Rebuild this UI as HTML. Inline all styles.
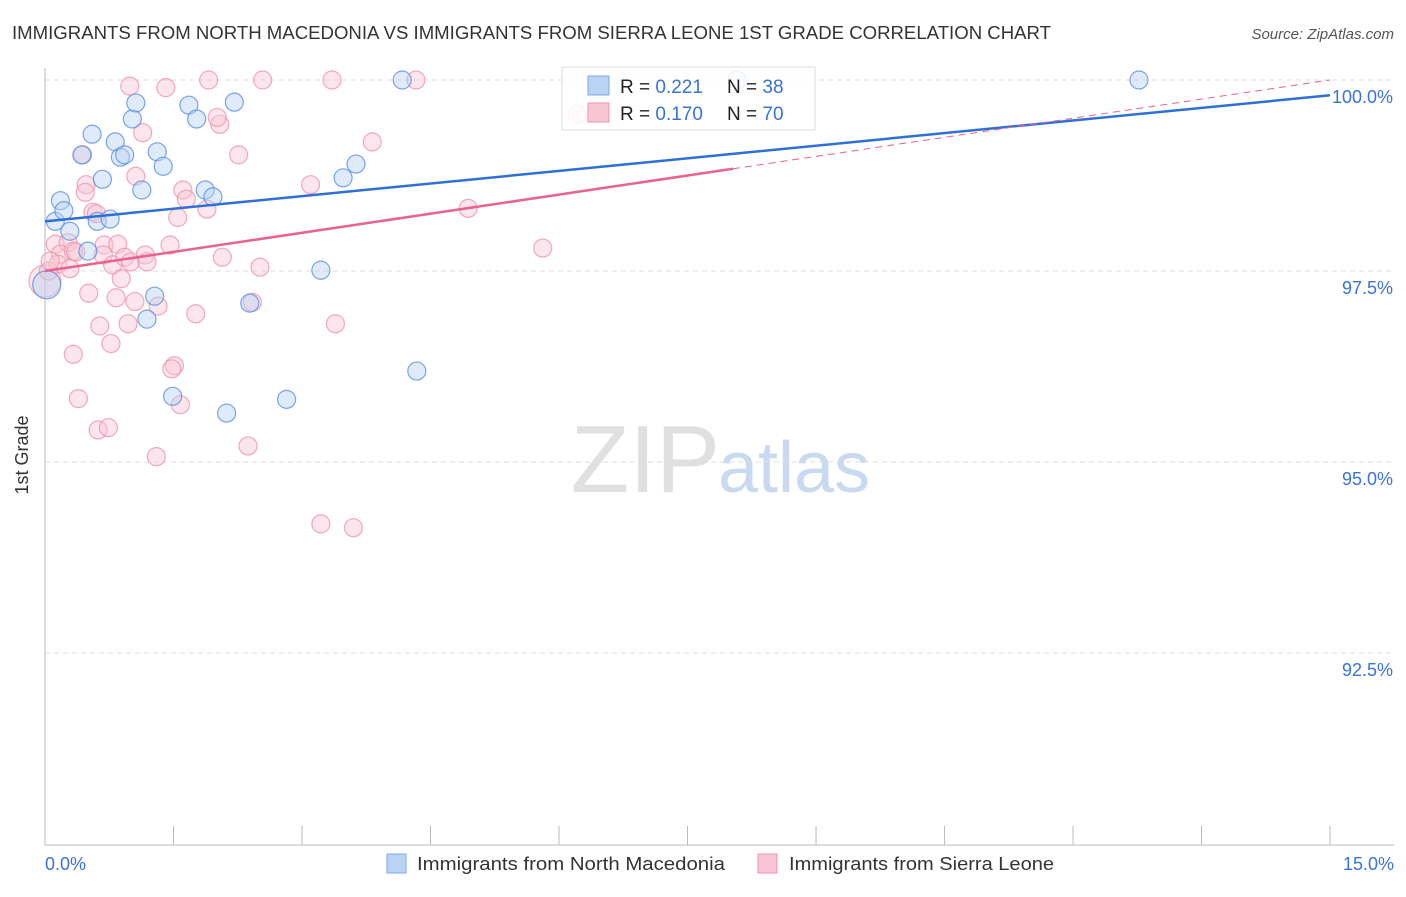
<!DOCTYPE html>
<html><head><meta charset="utf-8"><style>
body{margin:0;background:#fff;font-family:"Liberation Sans",sans-serif;}
svg text{font-family:"Liberation Sans",sans-serif;}
</style></head><body>
<svg width="1406" height="892" xmlns="http://www.w3.org/2000/svg">
<text x="12" y="39" font-size="18" fill="#333" textLength="1039" lengthAdjust="spacingAndGlyphs">IMMIGRANTS FROM NORTH MACEDONIA VS IMMIGRANTS FROM SIERRA LEONE 1ST GRADE CORRELATION CHART</text>
<text x="1394" y="39" font-size="15" fill="#555" text-anchor="end" font-style="italic">Source: ZipAtlas.com</text>
<text x="720" y="492" font-size="96" fill="#e0e0e0" text-anchor="end" font-family="Liberation Serif">ZIP</text>
<text x="718" y="492" font-size="72" fill="#c9d9ef">atlas</text>
<g id="grid"></g>
<line x1="45" y1="68" x2="45" y2="845" stroke="#bbb"/>
<line x1="45" y1="845" x2="1394" y2="845" stroke="#bbb"/>
<g id="xticks"></g>
<text x="28" y="455" font-size="18" fill="#333" text-anchor="middle" transform="rotate(-90 28 455)">1st Grade</text>
<text x="45" y="870" font-size="18" fill="#3b73d1">0.0%</text>
<text x="1394" y="870" font-size="18" fill="#3b73d1" text-anchor="end">15.0%</text>
<g id="pts"></g>
<g id="lines"></g>
<g>
<rect x="562" y="67" width="253" height="63" fill="#fff" fill-opacity="0.85" stroke="#ddd"/>
<rect x="588" y="76" width="21" height="19" fill="#b9d3f5" stroke="#7ea8e6"/>
<rect x="588" y="103" width="21" height="19" fill="#f8c5d4" stroke="#ee93ae"/>
<text x="620" y="93" font-size="19" fill="#222">R = <tspan fill="#3b73d1">0.221</tspan></text>
<text x="727" y="93" font-size="19" fill="#222">N = <tspan fill="#3b73d1">38</tspan></text>
<text x="620" y="120" font-size="19" fill="#222">R = <tspan fill="#3b73d1">0.170</tspan></text>
<text x="727" y="120" font-size="19" fill="#222">N = <tspan fill="#3b73d1">70</tspan></text>
</g>
<g>
<rect x="387" y="854" width="19" height="19" fill="#b9d3f5" stroke="#7ea8e6"/>
<text x="417" y="870" font-size="18" fill="#333" textLength="308" lengthAdjust="spacingAndGlyphs">Immigrants from North Macedonia</text>
<rect x="758" y="854" width="19" height="19" fill="#f8c5d4" stroke="#ee93ae"/>
<text x="789" y="870" font-size="18" fill="#333" textLength="265" lengthAdjust="spacingAndGlyphs">Immigrants from Sierra Leone</text>
</g>
</svg>
<script>
const yTicks=[100,97.5,95,92.5];
const yTickLabels=["100.0%","97.5%","95.0%","92.5%"];
const xTicks=[0,1.5,3,4.5,6,7.5,9,10.5,12,13.5,15];
const blueX=[0.12,0.18,0.22,0.29,0.50,0.43,0.55,0.67,0.61,0.76,0.82,0.88,0.93,1.02,1.06,1.13,1.31,1.38,1.19,1.28,1.49,1.68,1.77,1.87,1.96,2.12,2.21,2.39,2.82,3.22,3.48,3.63,4.17,4.34,8.08,12.77,0.02];
const blueY=[98.15,98.42,98.29,98.02,97.76,99.02,99.29,98.70,98.15,98.18,99.19,98.99,99.02,99.49,99.70,98.56,99.06,98.87,96.87,97.17,95.86,99.67,99.49,98.56,98.47,95.64,99.71,97.08,95.82,97.51,98.72,98.90,100.0,96.19,100.0,100.0,97.32];
const pinkX=[0.99,1.41,1.91,2.54,3.35,4.33,6.22,1.14,2.04,2.01,2.26,3.82,0.44,0.48,0.47,1.06,1.61,1.65,1.55,1.89,3.10,4.94,5.81,0.56,0.60,0.12,0.27,0.18,0.33,0.15,0.29,0.36,0.69,0.85,0.68,0.79,0.93,1.00,1.17,1.19,1.46,2.07,2.51,0.89,0.51,0.83,1.05,1.32,0.97,0.64,0.77,1.76,3.39,0.33,0.39,1.51,1.48,1.58,0.62,0.74,1.30,2.37,3.22,3.60,2.42,0.0,0.04,0.06];
const pinkY=[99.92,99.90,100.0,100.0,100.0,100.0,99.55,99.31,99.42,99.51,99.02,99.19,99.02,98.63,98.53,98.74,98.56,98.44,98.20,98.31,98.63,98.32,97.80,98.27,98.25,97.85,97.87,97.72,97.76,97.59,97.53,97.75,97.84,97.85,97.71,97.58,97.68,97.62,97.71,97.62,97.84,97.68,97.55,97.40,97.21,97.15,97.10,97.04,96.81,96.78,96.55,96.94,96.81,96.41,95.83,96.26,96.22,95.75,95.42,95.45,95.07,95.21,94.19,94.14,97.09,97.37,97.50,97.63];
const blueFit=[98.15,99.80];
const pinkFit=[97.50,100.0];
const pinkSolidEnd=8.03;
const X=v=>45+v*85.67, Y=v=>80+(100-v)*76.4;
const NS="http://www.w3.org/2000/svg";
function mk(t,a,parent){const e=document.createElementNS(NS,t);for(const k in a)e.setAttribute(k,a[k]);document.getElementById(parent).appendChild(e);return e;}
yTicks.forEach((v,i)=>{
 const l=mk('line',{x1:45,x2:1394,y1:Y(v),y2:Y(v),stroke:'#ddd','stroke-dasharray':'5,4'},'grid');
 
 
 const t=mk('text',{x:1393,y:Y(v)+23,'font-size':18,fill:'#3b73d1','text-anchor':'end'},'grid');
 t.textContent=yTickLabels[i];
 
 
});
xTicks.forEach(v=>{
 const l=mk('line',{x1:X(v),x2:X(v),y1:826,y2:845,stroke:'#bbb'},'xticks');
 
 
});
function dot(x,y,r,fill,stroke){
 return mk('circle',{cx:X(x),cy:Y(y),r:r,fill:fill,'fill-opacity':0.45,stroke:stroke,'stroke-width':1.2,'stroke-opacity':0.8},'pts');
}
pinkX.forEach((x,i)=>{const c=dot(x,pinkY[i],i==65?16:9,'#f8c5d4','#ee93ae');
 
 });
blueX.forEach((x,i)=>{const c=dot(x,blueY[i],i==36?14:9,'#b9d3f5','#5b8fde');
 
 });
const pf=x=>pinkFit[0]+(pinkFit[1]-pinkFit[0])*x/15;
let l1=mk('line',{x1:X(0),y1:Y(blueFit[0]),x2:X(15),y2:Y(blueFit[1]),stroke:'#2f6fd6','stroke-width':2.5},'lines');


let l2=mk('line',{x1:X(0),y1:Y(pf(0)),x2:X(pinkSolidEnd),y2:Y(pf(pinkSolidEnd)),stroke:'#e8638f','stroke-width':2.5},'lines');


let l3=mk('line',{x1:X(pinkSolidEnd),y1:Y(pf(pinkSolidEnd)),x2:X(15),y2:Y(pf(15)),stroke:'#e8638f','stroke-width':1,'stroke-dasharray':'7,5'},'lines');


</script>
</body></html>
